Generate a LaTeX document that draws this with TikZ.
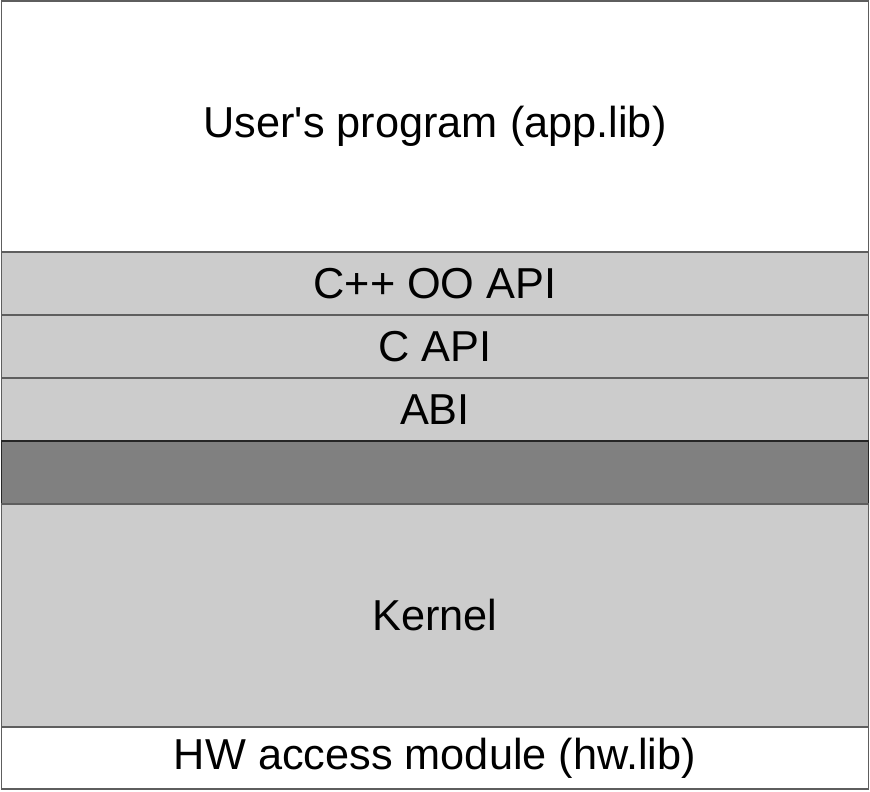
\documentclass[tikz,border=0pt]{standalone}
\usepackage{fontspec}
\setmainfont{Liberation Sans}
\usetikzlibrary{positioning}
\definecolor{layergray}{HTML}{CCCCCC}
\definecolor{darkband}{HTML}{808080}
\definecolor{edgegray}{HTML}{5E5E5E}
\tikzset{
  layer/.style={draw=edgegray, line width=1.3pt, fill=layergray, minimum width=867pt,
                inner sep=0pt, outer sep=0pt, anchor=north,
                font=\fontsize{43.3}{52}\selectfont},
  whitelayer/.style={layer, fill=white},
  darklayer/.style={layer, fill=darkband, draw=black!85}
}
\begin{document}
\begin{tikzpicture}[x=1pt,y=-1pt]
  \useasboundingbox (0,0) rectangle (870,792);

  % stack of layers, top to bottom
  \node[whitelayer, minimum height=251pt] (user) at (435,1) {\raisebox{-3pt}{User\textquotesingle s program (app.lib)}};
  \node[layer, minimum height=63pt] (cppapi) at (435,252) {C++ OO API};
  \node[layer, minimum height=63pt] (capi) at (435,315) {C API};
  \node[layer, minimum height=63pt] (abi) at (435,378) {ABI};
  \node[darklayer, minimum height=63pt] (band) at (435,441) {};
  \node[layer, minimum height=223pt] (kernel) at (435,504) {Kernel};
  \node[whitelayer, minimum height=62pt] (hw) at (435,727) {HW access module (hw.lib)};
\end{tikzpicture}
\end{document}
